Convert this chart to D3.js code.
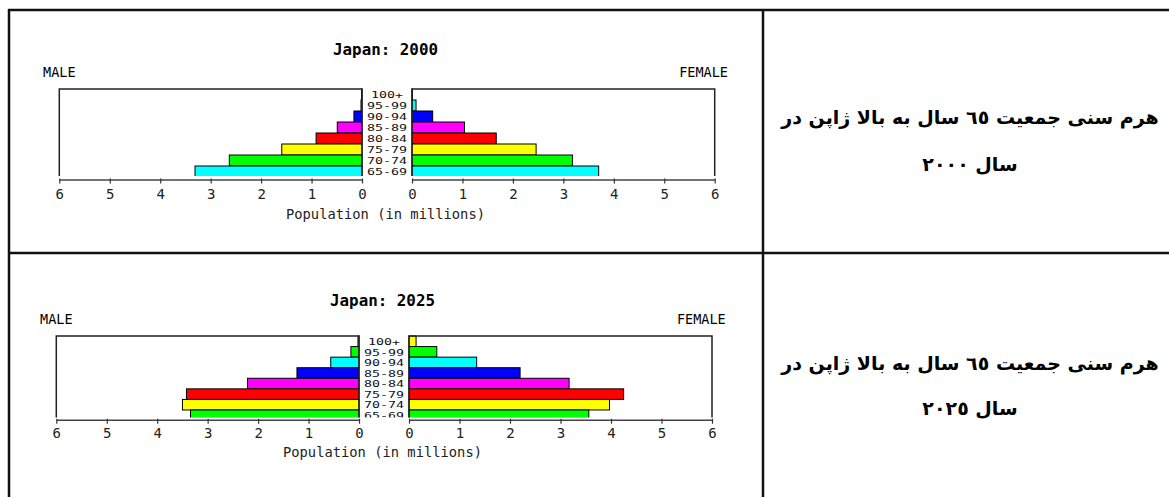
<!DOCTYPE html>
<html>
<head>
<meta charset="utf-8">
<script src="https://cdn.jsdelivr.net/npm/d3@7"></script>
<style>
    body { margin: 0; background: #fff; }
    svg { display: block; }
    .mono { font-family: "DejaVu Sans Mono", "Liberation Mono", monospace; }
</style>
</head>
<body>
<div id="chart"></div>
<script>
// age groups, top row first
var ages = ["100+", "95-99", "90-94", "85-89", "80-84", "75-79", "70-74", "65-69"];
var ticks = [0, 1, 2, 3, 4, 5, 6];

// population in millions
var male2000 = [0.01, 0.02, 0.16, 0.49, 0.91, 1.59, 2.63, 3.31];
var female2000 = [0.01, 0.08, 0.41, 1.04, 1.67, 2.46, 3.18, 3.70];
var colors2000 = ["#00ff00", "#00ffff", "#0000ff", "#ff00ff", "#ff0000", "#ffff00", "#00ff00", "#00ffff"];

var male2025 = [0.02, 0.16, 0.56, 1.23, 2.21, 3.42, 3.50, 3.34];
var female2025 = [0.14, 0.55, 1.34, 2.20, 3.17, 4.25, 3.97, 3.56];
var colors2025 = ["#ffff00", "#00ff00", "#00ffff", "#0000ff", "#ff00ff", "#ff0000", "#ffff00", "#00ff00"];

var captions = [
    ["هرم سنی جمعیت ٦٥ سال به بالا ژاپن در", "سال ٢٠٠٠"],
    ["هرم سنی جمعیت ٦٥ سال به بالا ژاپن در", "سال ٢٠٢٥"]
];

var width = 1169, height = 497;

var svg = d3.select("#chart").append("svg")
    .attr("width", width)
    .attr("height", height);

// table grid
var grid = svg.append("g")
    .attr("stroke", "#111")
    .attr("stroke-width", 2.5);
grid.append("line").attr("x1", 8).attr("x2", width).attr("y1", 10).attr("y2", 10);
grid.append("line").attr("x1", 9).attr("x2", 9).attr("y1", 9).attr("y2", height);
grid.append("line").attr("x1", 763).attr("x2", 763).attr("y1", 9).attr("y2", height);
grid.append("line").attr("x1", 9).attr("x2", width).attr("y1", 253).attr("y2", 253);

var layouts = [
    { title: "Japan: 2000", male: male2000, female: female2000, colors: colors2000,
      titleY: 50, sexY: 72, top: 89, rowH: 11, bottom: 176, axisY: 179.5, tickY: 194.5, popY: 214,
      maleX: [362, 59.3], femaleX: [412, 714.7], cx: 385.5, maleLeft: 43, femaleRight: 728,
      capY: [117, 164] },
    { title: "Japan: 2025", male: male2025, female: female2025, colors: colors2025,
      titleY: 301, sexY: 319, top: 336, rowH: 10.57, bottom: 417.5, axisY: 419.7, tickY: 433.5, popY: 452,
      maleX: [359, 56.3], femaleX: [409, 712], cx: 382.5, maleLeft: 40, femaleRight: 725.7,
      capY: [363, 408] }
];

layouts.forEach(function(L, i) {
    var g = svg.append("g");

    var y = d3.scaleBand()
        .domain(ages)
        .range([L.top, L.top + ages.length * L.rowH]);

    var xm = d3.scaleLinear().domain([0, 6]).range(L.maleX);
    var xf = d3.scaleLinear().domain([0, 6]).range(L.femaleX);

    var clipId = "clip" + i;
    svg.append("defs").append("clipPath")
        .attr("id", clipId)
        .append("rect")
        .attr("x", 0)
        .attr("y", L.top - 8)
        .attr("width", 763)
        .attr("height", L.bottom - L.top + 8);

    g.append("text")
        .attr("class", "mono")
        .attr("x", L.cx)
        .attr("y", L.titleY)
        .attr("dy", "0.35em")
        .attr("text-anchor", "middle")
        .attr("font-size", 15)
        .attr("font-weight", "bold")
        .attr("textLength", 105)
        .attr("lengthAdjust", "spacingAndGlyphs")
        .text(L.title);

    g.append("text")
        .attr("class", "mono")
        .attr("x", L.maleLeft)
        .attr("y", L.sexY)
        .attr("dy", "0.35em")
        .attr("font-size", 13.5)
        .text("MALE");

    g.append("text")
        .attr("class", "mono")
        .attr("x", L.femaleRight)
        .attr("y", L.sexY)
        .attr("dy", "0.35em")
        .attr("text-anchor", "end")
        .attr("font-size", 13.5)
        .text("FEMALE");

    var sides = [
        { x: xm, values: L.male },
        { x: xf, values: L.female }
    ];

    sides.forEach(function(s) {
        // bars
        g.append("g")
            .attr("clip-path", "url(#" + clipId + ")")
            .selectAll("rect")
            .data(ages)
            .enter().append("rect")
            .attr("x", function(d, j) { return Math.min(s.x(0), s.x(s.values[j])); })
            .attr("y", function(d) { return y(d); })
            .attr("width", function(d, j) { return Math.abs(s.x(s.values[j]) - s.x(0)); })
            .attr("height", y.bandwidth())
            .attr("fill", function(d, j) { return L.colors[j]; })
            .attr("stroke", "#000")
            .attr("stroke-width", 1);

        // frame (no bottom edge)
        g.append("path")
            .attr("d", "M" + s.x(6) + "," + L.bottom + "V" + L.top + "H" + s.x(0) + "V" + L.bottom)
            .attr("fill", "none")
            .attr("stroke", "#222")
            .attr("stroke-width", 1.5);

        // axis
        var axis = d3.axisBottom(s.x)
            .tickValues(ticks)
            .tickSizeInner(4)
            .tickSizeOuter(0)
            .tickFormat(d3.format("d"));

        var ag = g.append("g")
            .attr("transform", "translate(0," + L.axisY + ")")
            .call(axis);
        ag.select(".domain").attr("stroke", "#444").attr("stroke-width", 1.5);
        ag.selectAll(".tick line").attr("stroke", "#333").attr("stroke-width", 1.2).attr("y1", -1);
        ag.selectAll(".tick text")
            .attr("class", "mono")
            .attr("font-family", "DejaVu Sans Mono")
            .attr("font-size", 14)
            .attr("fill", "#222")
            .attr("y", L.tickY - L.axisY)
            .attr("dy", "0.35em");
    });

    // age labels in the middle, stretched wide like the original bitmap font
    g.append("g")
        .attr("clip-path", "url(#" + clipId + ")")
        .selectAll("text")
        .data(ages)
        .enter().append("text")
        .attr("class", "mono")
        .attr("x", (L.maleX[0] + L.femaleX[0]) / 2)
        .attr("y", function(d) { return y(d) + y.bandwidth() / 2 + 0.5; })
        .attr("dy", "0.35em")
        .attr("text-anchor", "middle")
        .attr("font-size", 9)
        .attr("fill", "#111")
        .attr("textLength", function(d) { return d.length * 8; })
        .attr("lengthAdjust", "spacingAndGlyphs")
        .text(function(d) { return d; });

    g.append("text")
        .attr("class", "mono")
        .attr("x", L.cx)
        .attr("y", L.popY)
        .attr("dy", "0.35em")
        .attr("text-anchor", "middle")
        .attr("font-size", 13.5)
        .attr("fill", "#222")
        .attr("textLength", 199)
        .attr("lengthAdjust", "spacingAndGlyphs")
        .text("Population (in millions)");

    // persian caption in the right cell
    captions[i].forEach(function(line, k) {
        svg.append("text")
            .attr("x", 970)
            .attr("y", L.capY[k])
            .attr("dy", "0.35em")
            .attr("direction", "rtl")
            .attr("text-anchor", "middle")
            .attr("font-family", "DejaVu Sans, sans-serif")
            .attr("font-weight", "bold")
            .attr("font-size", 19)
            .attr("fill", "#000")
            .text(line);
    });
});
</script>
</body>
</html>
